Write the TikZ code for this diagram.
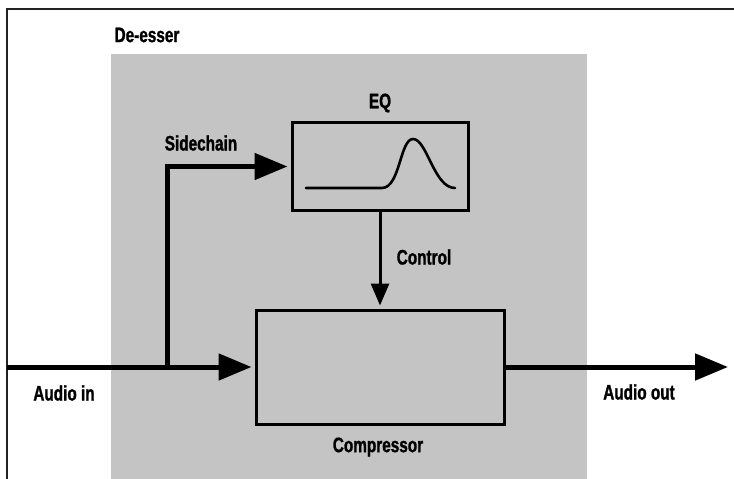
\documentclass[tikz,border=0pt]{standalone}
\usepackage{fontspec}
\setmainfont{Liberation Sans}[FakeStretch=0.73, BoldFeatures={FakeBold=1.2}]
\usetikzlibrary{arrows.meta}
\definecolor{boxgray}{HTML}{C4C4C4}
\definecolor{framegray}{HTML}{222222}
\tikzset{
  lbl/.style={font=\bfseries\fontsize{21}{24}\selectfont, inner sep=0pt},
  blk/.style={draw=black, line width=3pt, fill=boxgray, inner sep=0pt},
  bigflow/.style={line width=5pt, -{Triangle[length=33pt,width=26pt]}},
  ctlflow/.style={line width=3pt, -{Triangle[length=22pt,width=18pt]}},
}
\begin{document}
\begin{tikzpicture}[x=1pt,y=-1pt]
\useasboundingbox (0,0) rectangle (734,479);
% outer frame (top and left)
\draw[framegray, line width=2pt] (7,479) -- (7,9) -- (734,9);
% de-esser area
\fill[boxgray] (111,54) rectangle (587,479);
\node[lbl] (deesser) at (147,35) {De-esser};
% blocks
\node[blk, minimum width=176pt, minimum height=88pt] (eq) at (380,166.5) {};
\node[blk, minimum width=248pt, minimum height=114pt] (comp) at (380,367) {};
\node[lbl] (eqlbl) at (380,103) {EQ};
\node[lbl] (complbl) at (378,447) {Compressor};
% EQ curve
\draw[line width=2.6pt, line cap=round] (306,188) -- (382,188)
  .. controls (400,188) and (400,139) .. (413,139)
  .. controls (427,139) and (434,188) .. (455,188);
% connectors
\coordinate (in) at (7,367);
\coordinate (br) at (167,367);
\coordinate (out) at (728,367);
\draw[bigflow, shorten >=3pt] (in) -- (comp.west);
\draw[bigflow, shorten >=3pt] (br) |- (eq.west);
\draw[bigflow] (comp.east) -- (out);
\draw[ctlflow, shorten >=3pt] (eq.south) -- (comp.north);
% labels
\node[lbl] (sidechain) at (201,143) {Sidechain};
\node[lbl] (control) at (424,257) {Control};
\node[lbl] (audioin) at (64,393) {Audio in};
\node[lbl] (audioout) at (639,392) {Audio out};
\end{tikzpicture}
\end{document}
